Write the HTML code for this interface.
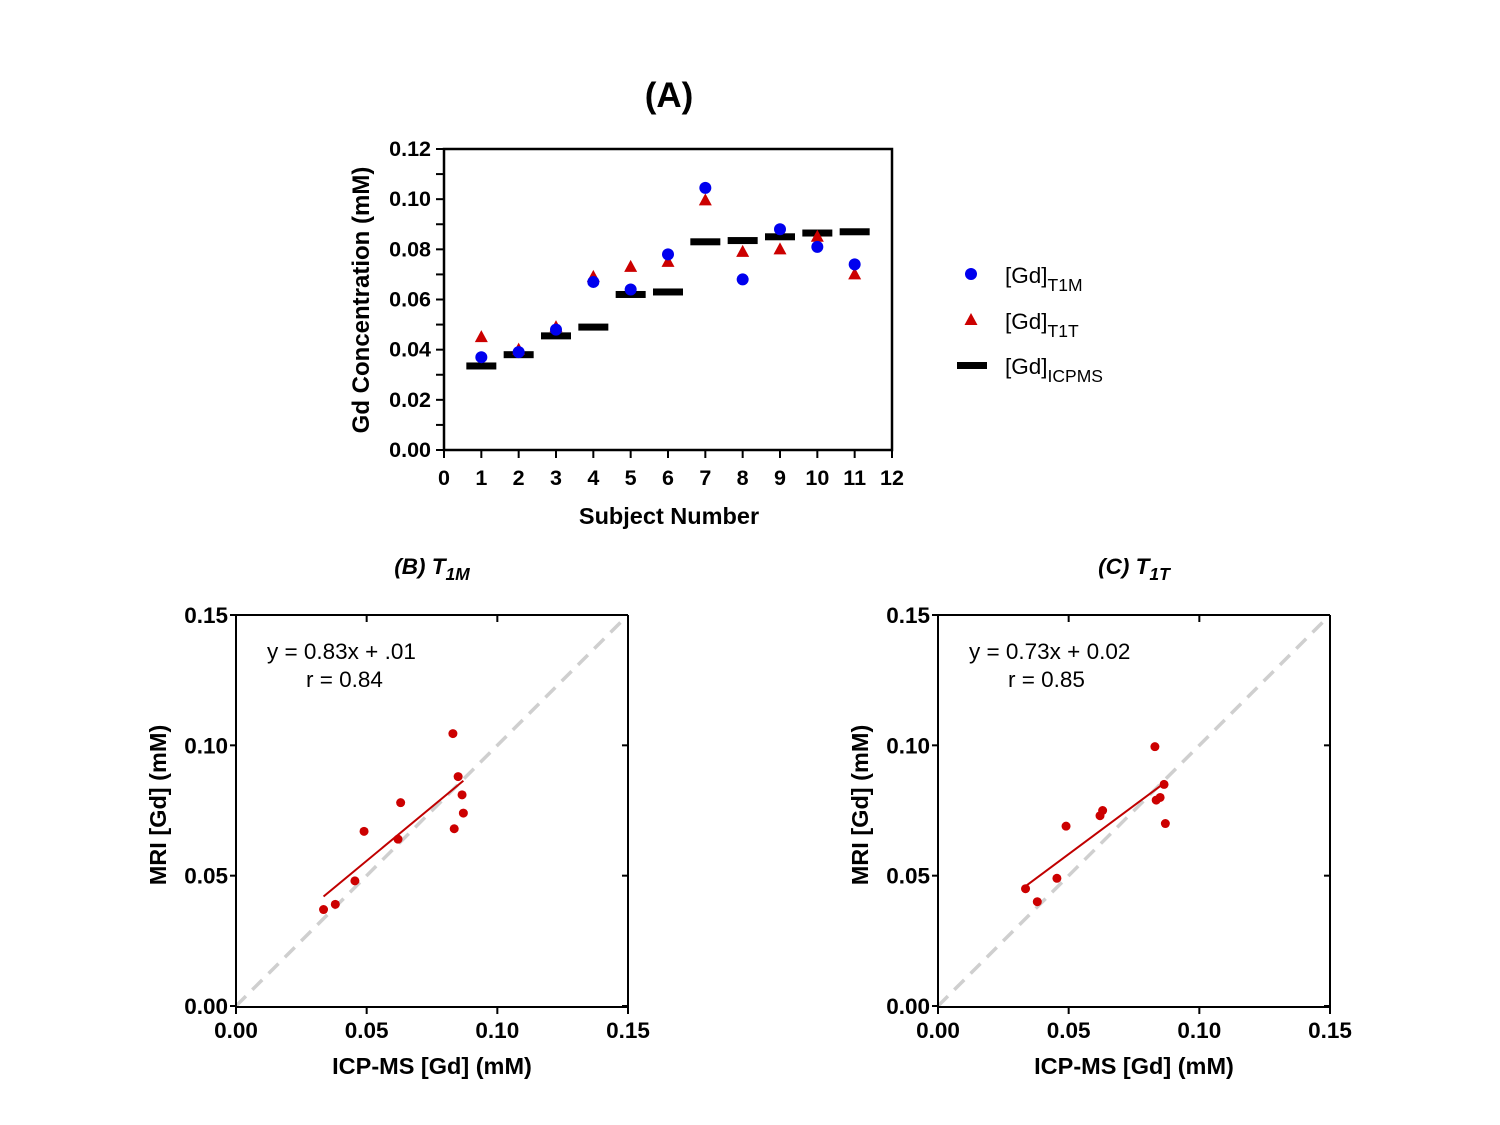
<!DOCTYPE html>
<html><head><meta charset="utf-8">
<style>
html,body{margin:0;padding:0;background:#fff;}
svg{display:block;font-family:"Liberation Sans",Arial,sans-serif;}
</style></head>
<body>
<svg id="fig" width="1500" height="1125" viewBox="0 0 1500 1125" xmlns="http://www.w3.org/2000/svg">
<g id="pa"></g>
<g id="pb"></g>
<g id="pc"></g>
</svg>
<script>
const subjects = [1,2,3,4,5,6,7,8,9,10,11];
const icpms = [0.0335,0.038,0.0455,0.049,0.062,0.063,0.083,0.0835,0.085,0.0865,0.087];
const t1m = [0.037,0.039,0.048,0.067,0.064,0.078,0.1045,0.068,0.088,0.081,0.074];
const t1t = [0.045,0.040,0.049,0.069,0.073,0.075,0.0995,0.079,0.080,0.085,0.070];
const yTicksA = [0,0.02,0.04,0.06,0.08,0.10,0.12];
const yTickLabelsA = ["0.00","0.02","0.04","0.06","0.08","0.10","0.12"];
const xTicksA = [0,1,2,3,4,5,6,7,8,9,10,11,12];
const scatterTicks = [0,0.05,0.10,0.15];
const scatterTickLabels = ["0.00","0.05","0.10","0.15"];
const fitB = [0.83,0.0142];
const fitC = [0.745,0.021];

const NS="http://www.w3.org/2000/svg";
function mk(parent,tag,attrs,text){const e=document.createElementNS(NS,tag);for(const k in attrs)e.setAttribute(k,attrs[k]);if(text!==undefined)e.textContent=text;parent.appendChild(e);return e;}

// Panel A
const A=document.getElementById('pa');
const ax=v=>444+v*(892-444)/12, ay=v=>450-v*(450-149)/0.12;
let t=mk(A,'text',{x:669,y:107,'font-size':35,'font-weight':'bold','text-anchor':'middle'},'(A)');

let fr=mk(A,'rect',{x:444,y:149,width:448,height:301,fill:'none',stroke:'#000','stroke-width':2.5});

for(let v=0;v<=0.1201;v+=0.01){mk(A,'line',{x1:436,x2:444,y1:ay(v),y2:ay(v),stroke:'#000','stroke-width':2});}
yTicksA.forEach((v,i)=>{const e=mk(A,'text',{x:431,y:ay(v)+7,'font-size':21.5,'font-weight':'bold','text-anchor':'end'},yTickLabelsA[i]);
});
xTicksA.forEach(v=>{mk(A,'line',{x1:ax(v),x2:ax(v),y1:450,y2:458,stroke:'#000','stroke-width':2});
const e=mk(A,'text',{x:ax(v),y:485,'font-size':21.5,'font-weight':'bold','text-anchor':'middle'},String(v));
});
t=mk(A,'text',{x:669,y:524,'font-size':23.5,'font-weight':'bold','text-anchor':'middle'},'Subject Number');

t=mk(A,'text',{x:0,y:0,'font-size':24,'font-weight':'bold','text-anchor':'middle',transform:'translate(369,300) rotate(-90)'},'Gd Concentration (mM)');

subjects.forEach((s,i)=>{
 const b=mk(A,'rect',{x:ax(s)-15,y:ay(icpms[i])-3.5,width:30,height:7,fill:'#000'});
 
 const x=ax(s),y=ay(t1t[i]);
 const tr=mk(A,'polygon',{points:`${x},${y-7} ${x-6.5},${y+5} ${x+6.5},${y+5}`,fill:'#cc0000'});
 
 const c=mk(A,'circle',{cx:ax(s),cy:ay(t1m[i]),r:6,fill:'#0000ee'});
 
});
// legend
const L=mk(A,'g',{});
mk(L,'circle',{cx:971,cy:274,r:6,fill:'#0000ee'});
mk(L,'polygon',{points:'971,313 964.5,325 977.5,325',fill:'#cc0000'});
mk(L,'rect',{x:957,y:362,width:30,height:7,fill:'#000'});
const leg=[[283,'T1M'],[329,'T1T'],[374,'ICPMS']];
leg.forEach(([y,s])=>{const e=mk(L,'text',{x:1005,y:y,'font-size':22.5},'[Gd]');
 mk(e,'tspan',{'font-size':17.5,dy:8},s);});

// scatter panels
function scatter(g,x0,ys,fit,title,sub,eq,r){
 const sx=v=>x0+v*392/0.15, sy=v=>1006-v*391/0.15;
 let e=mk(g,'text',{x:x0+196,y:574,'font-size':22.5,'font-weight':'bold','font-style':'italic','text-anchor':'middle'},title);
 mk(e,'tspan',{'font-size':17.5,dy:6},sub);
 e=mk(g,'line',{x1:sx(0),y1:sy(0),x2:sx(0.15),y2:sy(0.15),stroke:'#cfcfcf','stroke-width':3.5,'stroke-dasharray':'14,9'});
 
 mk(g,'line',{x1:x0,y1:615,x2:x0,y2:1007,stroke:'#000','stroke-width':2});
 mk(g,'line',{x1:x0,y1:1007,x2:x0+392,y2:1007,stroke:'#000','stroke-width':2});
 mk(g,'line',{x1:x0,y1:615,x2:x0+392,y2:615,stroke:'#000','stroke-width':2});
 mk(g,'line',{x1:x0+392,y1:615,x2:x0+392,y2:1007,stroke:'#000','stroke-width':2});
 scatterTicks.forEach((v,i)=>{
  mk(g,'line',{x1:x0-6,x2:x0,y1:sy(v),y2:sy(v),stroke:'#000','stroke-width':2});
  mk(g,'line',{x1:x0+392,x2:x0+386,y1:sy(v),y2:sy(v),stroke:'#000','stroke-width':2});
  mk(g,'line',{x1:sx(v),x2:sx(v),y1:1007,y2:1014,stroke:'#000','stroke-width':2});
  mk(g,'line',{x1:sx(v),x2:sx(v),y1:615,y2:622,stroke:'#000','stroke-width':2});
  let a=mk(g,'text',{x:x0-8,y:sy(v)+8,'font-size':22.5,'font-weight':'bold','text-anchor':'end'},scatterTickLabels[i]);
  
  a=mk(g,'text',{x:sx(v),y:1038,'font-size':22.5,'font-weight':'bold','text-anchor':'middle'},scatterTickLabels[i]);
  
 });
 e=mk(g,'text',{x:x0+196,y:1074,'font-size':23.5,'font-weight':'bold','text-anchor':'middle'},'ICP-MS [Gd] (mM)');
 
 e=mk(g,'text',{x:0,y:0,'font-size':23.5,'font-weight':'bold','text-anchor':'middle',transform:`translate(${x0-70},805) rotate(-90)`},'MRI [Gd] (mM)');
 
 e=mk(g,'text',{x:x0+31,y:659,'font-size':22.5},eq);
 e=mk(g,'text',{x:x0+70,y:687,'font-size':22.5},r);
 const xmin=Math.min(...icpms),xmax=Math.max(...icpms);
 e=mk(g,'line',{x1:sx(xmin),y1:sy(fit[0]*xmin+fit[1]),x2:sx(xmax),y2:sy(fit[0]*xmax+fit[1]),stroke:'#c00000','stroke-width':2});
 
 icpms.forEach((v,i)=>{const c=mk(g,'circle',{cx:sx(v),cy:sy(ys[i]),r:4.5,fill:'#cc0000'});
  });
}
scatter(document.getElementById('pb'),236,t1m,fitB,'(B) T','1M','y = 0.83x + .01','r = 0.84');
scatter(document.getElementById('pc'),938,t1t,fitC,'(C) T','1T','y = 0.73x + 0.02','r = 0.85');
</script>
</body></html>
